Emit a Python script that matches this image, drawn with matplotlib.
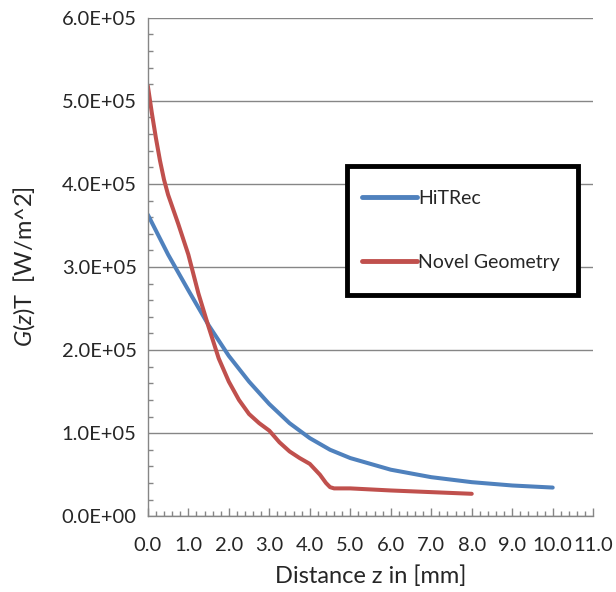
import numpy as np
import matplotlib.pyplot as plt
import matplotlib.patches as patches
from matplotlib.ticker import MultipleLocator, FuncFormatter

plt.rcParams['font.family'] = ['Lato', 'DejaVu Sans']
plt.rcParams['mathtext.fontset'] = 'custom'
plt.rcParams['mathtext.it'] = 'Lato:italic'
plt.rcParams['mathtext.rm'] = 'Lato'

# HiTRec
z_hit = [0.0, 0.5, 1.0, 1.5, 2.0, 2.5, 3.0, 3.5, 4.0, 4.5, 5.0, 6.0, 7.0, 8.0, 9.0, 10.0]
g_hit = [3.63e5, 3.15e5, 2.72e5, 2.30e5, 1.93e5, 1.62e5, 1.35e5, 1.12e5, 0.94e5, 0.80e5,
         0.70e5, 0.56e5, 0.47e5, 0.41e5, 0.37e5, 0.345e5]

# Novel Geometry
z_nov = [0.0, 0.1, 0.2, 0.3, 0.4, 0.5, 0.75, 1.0, 1.25, 1.5, 1.75, 2.0, 2.25, 2.5, 2.75,
         3.0, 3.25, 3.5, 3.75, 4.0, 4.25, 4.4, 4.5, 4.6, 4.75, 5.0, 6.0, 7.0, 8.0]
g_nov = [5.18e5, 4.85e5, 4.55e5, 4.28e5, 4.05e5, 3.87e5, 3.52e5, 3.15e5, 2.68e5, 2.28e5, 1.9e5,
         1.62e5, 1.4e5, 1.23e5, 1.12e5, 1.03e5, 0.89e5, 0.78e5, 0.7e5, 0.63e5, 0.5e5, 0.4e5,
         0.35e5, 0.335e5, 0.335e5, 0.335e5, 0.31e5, 0.29e5, 0.27e5]

fig = plt.figure(figsize=(6.16, 5.92), dpi=100)
ax = fig.add_axes([0.240, 0.128, 0.723, 0.842])

ax.plot(z_hit, g_hit, color='#4F81BD', lw=2.9, label='HiTRec',
        solid_capstyle='round', solid_joinstyle='round')
ax.plot(z_nov, g_nov, color='#C0504D', lw=2.9, label='Novel Geometry',
        solid_capstyle='round', solid_joinstyle='round')

ax.set_xlim(0, 11)
ax.set_ylim(0, 6e5)
ax.xaxis.set_major_locator(MultipleLocator(1))
ax.xaxis.set_minor_locator(MultipleLocator(0.2))
ax.yaxis.set_major_locator(MultipleLocator(1e5))
ax.yaxis.set_minor_locator(MultipleLocator(2e4))
ax.xaxis.set_major_formatter(FuncFormatter(lambda v, p: f'{v:.1f}'))
ax.yaxis.set_major_formatter(FuncFormatter(lambda v, p: f'{v:.1E}'))

ax.grid(axis='y', which='major', color='#868686', lw=1)
ax.set_axisbelow(True)
for s in ['top', 'right']:
    ax.spines[s].set_visible(False)
for s in ['left', 'bottom']:
    ax.spines[s].set_color('#868686')
    ax.spines[s].set_linewidth(1)

ax.tick_params(which='both', direction='in', color='#868686', labelsize=14.5,
               labelcolor='#262626')
ax.tick_params(which='major', length=6, width=1)
ax.tick_params(which='minor', length=3.5, width=1)
ax.tick_params(axis='x', pad=15)
ax.tick_params(axis='y', pad=8, length=0, which='major')

ax.set_xlabel('Distance z in [mm]', fontsize=17, color='#262626', labelpad=8)
ax.set_ylabel('$G(z)$T  [W/m^2]', fontsize=17, color='#262626', labelpad=18)

# legend frame drawn as its own box, legend entries placed inside it
box = patches.Rectangle((0.447, 0.444), 0.519, 0.259, transform=ax.transAxes,
                        fc='white', ec='black', lw=3.5, zorder=5)
ax.add_patch(box)
leg = ax.legend(loc='center left', bbox_to_anchor=(0.481, 0.5735),
                fontsize=14, frameon=False, labelspacing=2.45, borderpad=0,
                handlelength=2.8, handletextpad=0.1, borderaxespad=0)
leg.set_zorder(6)
for line in leg.get_lines():
    line.set_linewidth(3.5)
    line.set_solid_capstyle('round')
for t in leg.get_texts():
    t.set_color('#262626')

fig.savefig('out.png', dpi=100)
